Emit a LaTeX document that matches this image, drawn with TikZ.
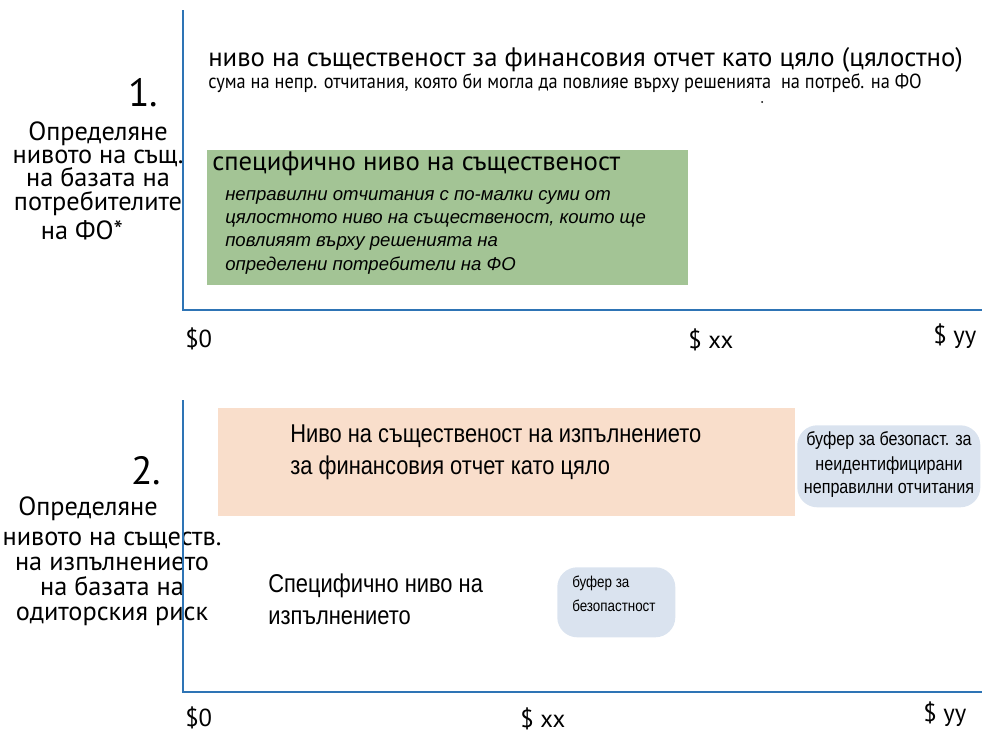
\documentclass[tikz,border=0pt]{standalone}
\usepackage{fontspec}
\setmainfont{PT Sans}
\newfontfamily\ptnarrow[FakeStretch=0.9]{PT Sans}
\newfontfamily\arialfont{Liberation Sans}
\newfontfamily\narrowfont[FakeStretch=0.85]{Liberation Sans}
\usetikzlibrary{positioning}
\definecolor{axisblue}{HTML}{2E74B5}
\definecolor{specgreen}{HTML}{A3C495}
\definecolor{perfpeach}{HTML}{F9DECB}
\definecolor{bufferblue}{HTML}{DAE3EF}
\newcommand\sidefont[1]{\fontsize{18.7}{#1}\selectfont\lineskiplimit-20pt\relax}

\begin{document}
\begin{tikzpicture}[
  x=0.025cm, y=-0.025cm,
  txt/.style={inner sep=0pt,anchor=base west},
  ctxt/.style={inner sep=0pt,anchor=base},
  num/.style={ctxt,font=\fontsize{28}{30}\selectfont},
  side/.style={inner sep=0pt,anchor=north,align=center,font=\sidefont{16.6}},
  tick/.style={txt,font=\fontsize{17.5}{19}\selectfont},
  axis/.style={draw=axisblue,line width=2pt},
  area/.style={inner sep=0pt,anchor=north west},
  buffer/.style={area,fill=bufferblue,rounded corners=5mm},
  italic/.style={txt,font=\arialfont\itshape\fontsize{13.2}{16}\selectfont},
  plain/.style={txt,font=\narrowfont\fontsize{18.3}{20}\selectfont},
  bufftext/.style={ctxt,font=\narrowfont\fontsize{13.5}{15}\selectfont}
]
\useasboundingbox (0,0) rectangle (982,732);

% --- 1. level for the users of the statements
\node[num] (one) at (143,106) {1.};
\node[side] (side1) at (98,121)
  {Определяне\\нивото на същ.\\на базата на\hspace*{11pt}\\потребителите\\[4pt]на ФО*\hspace*{23pt}};

\node[txt,font=\fontsize{19}{21}\selectfont] (overall) at (208,66)
  {ниво на същественост за финансовия отчет като цяло (цялостно)};
\node[txt,font=\ptnarrow\fontsize{14.5}{16}\selectfont] (overallsub) at (208,88)
  {сума на непр. отчитания, която би могла да повлияе върху решенията\ \ на потреб. на ФО};
\fill (762,102) circle (1);

\node[area,fill=specgreen,minimum width=12.025cm,minimum height=3.375cm] (spec) at (207,150) {};
\node[txt,font=\fontsize{19}{21}\selectfont] (spectitle) at (212,170) {специфично ниво на същественост};
\node[italic] (spec1) at (225,200) {неправилни отчитания с по-малки суми от};
\node[italic] (spec2) at (225,223) {цялостното ниво на същественост, които ще};
\node[italic] (spec3) at (225,246) {повлияят върху решенията на};
\node[italic] (spec4) at (225,270) {определени потребители на ФО};

\coordinate (top1) at (183,10);
\coordinate (orig1) at (183,310);
\coordinate (end1) at (982,310);
\draw[axis] (top1) -- (orig1) -- (end1);

\node[tick] (zero1) at (185,347) {\$0};
\node[tick] (xx1) at (688,348) {\$ xx};
\node[tick] (yy1) at (933,343) {\$ yy};

% --- 2. performance materiality
\node[num] (two) at (146,484) {2.};
\node[side,font=\sidefont{17.8}] (side2) at (112,496)
  {Определяне\hspace*{34pt}\\[4pt]нивото на съществ.\\на изпълнението\\на базата на\hspace*{23pt}\\одиторския риск};

\node[area,fill=perfpeach,minimum width=14.425cm,minimum height=2.7cm] (perf) at (218,408) {};
\node[plain] (perf1) at (290,442) {Ниво на същественост на изпълнението};
\node[plain] (perf2) at (290,474) {за финансовия отчет като цяло};

\node[buffer,minimum width=4.575cm,minimum height=2.05cm] (buf1) at (797,425) {};
\node[bufftext] (buf1a) at (889,445) {буфер за безопаст. за};
\node[bufftext] (buf1b) at (889,470) {неидентифицирани};
\node[bufftext] (buf1c) at (889,493) {неправилни отчитания};

\node[plain] (spp1) at (268,592) {Специфично ниво на};
\node[plain] (spp2) at (268,624) {изпълнението};

\node[buffer,minimum width=2.95cm,minimum height=1.75cm] (buf2) at (557,567) {};
\node[txt,font=\narrowfont\fontsize{11.2}{13}\selectfont] (buf2a) at (572,587) {буфер за};
\node[txt,font=\narrowfont\fontsize{11.2}{13}\selectfont] (buf2b) at (572,611) {безопастност};

\coordinate (top2) at (183,400);
\coordinate (orig2) at (183,692);
\coordinate (end2) at (982,692);
\draw[axis] (top2) -- (orig2) -- (end2);

\node[tick] (zero2) at (185,726) {\$0};
\node[tick] (xx2) at (520,727) {\$ xx};
\node[tick] (yy2) at (923,721) {\$ yy};
\end{tikzpicture}
\end{document}
